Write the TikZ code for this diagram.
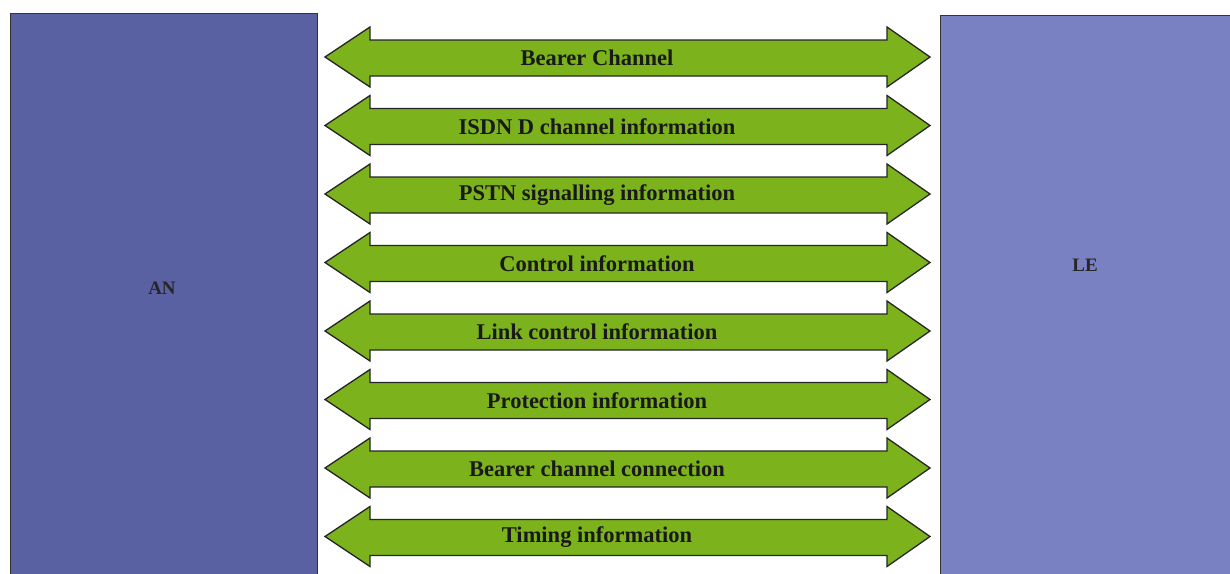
\documentclass[tikz,border=0pt]{standalone}
\usepackage{fontspec}
\setmainfont{Liberation Serif}
\begin{document}
\begin{tikzpicture}[x=1pt,y=-1pt,
  unitbox/.style={draw=black!80,line width=1pt},
  flowarrow/.style={draw=black!85,line width=1.3pt,fill=arrowgreen,line join=miter},
  flowlabel/.style={font=\fontsize{22.5}{26}\selectfont\bfseries,text=black!90,inner sep=0pt},
  unitlabel/.style={font=\fontsize{19}{22}\selectfont\bfseries,text=black!85,inner sep=0pt}]
\definecolor{arrowgreen}{RGB}{124,178,28}
\definecolor{anblue}{RGB}{90,97,162}
\definecolor{leblue}{RGB}{122,129,194}
\useasboundingbox (0,0) rectangle (1230,573);
\fill[white] (0,0) rectangle (1230,573);

% the two units
\draw[unitbox,fill=anblue] (10,13) rectangle (317,576);
\draw[unitbox,fill=leblue] (940,15) rectangle (1234,576);
\node[unitlabel] (an) at (162,288) {AN};
\node[unitlabel] (le) at (1085,265) {LE};

% information flows between AN and LE
\foreach \i/\txt in {0/Bearer Channel,
                     1/ISDN D channel information,
                     2/PSTN signalling information,
                     3/Control information,
                     4/Link control information,
                     5/Protection information,
                     6/Bearer channel connection,
                     7/Timing information}{
  \pgfmathsetmacro{\cy}{57+68.5*\i}
  \draw[flowarrow] (325,\cy) -- (370,\cy-30) -- (370,\cy-17) -- (887,\cy-17)
        -- (887,\cy-30) -- (930,\cy) -- (887,\cy+30) -- (887,\cy+19)
        -- (370,\cy+19) -- (370,\cy+30) -- cycle;
  \node[flowlabel] (flow\i) at (597,\cy+1) {\txt};
}
\end{tikzpicture}
\end{document}
